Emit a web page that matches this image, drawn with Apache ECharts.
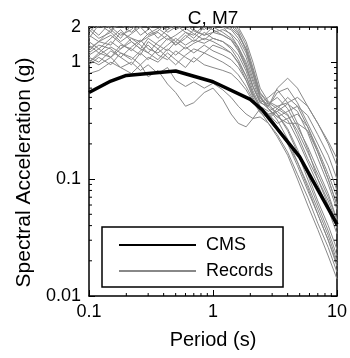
<!DOCTYPE html>
<html>
<head>
<meta charset="utf-8">
<script src="https://cdn.jsdelivr.net/npm/echarts@6/dist/echarts.min.js"></script>
<style>html,body{margin:0;padding:0;background:#fff}#c{width:350px;height:358px}</style>
</head>
<body>
<div id="c"></div>
<script>
// ---- data ----
const cmsPeriods = [0.1, 0.15, 0.2, 0.5, 1.0, 2.0, 2.5, 5.0, 10];
const cmsValues  = [0.55, 0.69, 0.77, 0.84, 0.68, 0.48, 0.39, 0.155, 0.041];

const recPeriods = [0.1,0.12,0.15,0.18,0.22,0.26,0.3,0.36,0.43,0.5,0.6,0.7,0.85,1.0,1.2,1.4,1.6,1.85,2.1,2.4,2.8,3.3,4.0,4.8,5.8,7.0,8.5,10];
const rec01 = [1.6,2.1,1.8,2.4,2.0,2.6,2.2,2.5,2.1,2.7,2.3,2.6,2.4,2.5,2.3,2.2,1.8,1.25,0.8,0.5,0.42,0.36,0.27,0.18,0.11,0.065,0.04,0.025];
const rec02 = [1.3,1.5,1.9,1.6,2.1,1.7,1.9,2.3,1.8,2.0,2.4,2.1,1.9,2.2,2.0,1.7,1.35,0.95,0.62,0.45,0.5,0.58,0.45,0.3,0.18,0.1,0.06,0.038];
const rec03 = [1.0,1.2,1.1,1.4,1.3,1.15,1.5,1.3,1.6,1.4,1.7,1.5,1.8,1.6,1.5,1.3,1.05,0.76,0.54,0.4,0.32,0.26,0.2,0.14,0.09,0.055,0.033,0.02];
const rec04 = [2.0,1.7,2.2,2.6,2.3,2.0,2.4,2.8,2.5,2.2,2.6,2.9,2.5,2.7,2.4,2.2,1.9,1.4,0.9,0.55,0.45,0.4,0.35,0.26,0.17,0.11,0.07,0.045];
const rec05 = [1.1,1.0,1.25,1.1,0.95,1.2,1.05,1.3,1.1,0.95,1.15,1.3,1.2,1.4,1.3,1.2,0.98,0.7,0.5,0.38,0.34,0.4,0.5,0.42,0.28,0.17,0.1,0.06];
const rec06 = [0.8,0.85,1.0,0.9,0.8,0.95,0.75,0.85,0.65,0.55,0.42,0.45,0.55,0.6,0.48,0.36,0.3,0.28,0.33,0.4,0.36,0.28,0.2,0.13,0.08,0.05,0.03,0.018];
const rec07 = [1.05,0.95,1.1,0.9,1.0,0.85,0.95,0.8,0.9,0.7,0.62,0.68,0.6,0.66,0.58,0.5,0.42,0.36,0.33,0.34,0.3,0.24,0.17,0.11,0.07,0.042,0.026,0.016];
const rec08 = [1.8,2.2,2.0,1.7,1.9,2.3,2.0,1.6,1.9,2.1,1.8,1.6,2.0,1.9,1.7,1.55,1.3,0.9,0.62,0.45,0.42,0.6,0.73,0.6,0.42,0.3,0.2,0.13];
const rec09 = [1.4,1.2,1.5,1.3,1.6,1.4,1.2,1.5,1.7,1.4,1.6,1.9,1.7,1.8,1.9,1.75,1.5,1.1,0.72,0.5,0.42,0.55,0.6,0.45,0.3,0.2,0.13,0.08];
const rec10 = [2.3,2.0,2.5,2.2,2.7,2.4,2.0,2.3,2.6,2.9,2.5,2.2,2.6,2.3,2.1,1.95,1.7,1.3,0.85,0.52,0.4,0.32,0.22,0.14,0.085,0.05,0.03,0.019];
const rec11 = [1.2,1.4,1.3,1.1,1.35,1.55,1.3,1.2,1.4,1.6,1.4,1.55,1.45,1.6,1.5,1.35,1.15,0.84,0.57,0.42,0.36,0.3,0.33,0.36,0.28,0.18,0.11,0.07];
const rec12 = [1.7,1.5,1.4,1.8,1.6,1.5,1.75,1.95,1.7,1.5,1.8,1.7,2.1,2.0,1.8,1.6,1.35,1.0,0.68,0.47,0.44,0.5,0.4,0.28,0.19,0.12,0.075,0.045];
const rec13 = [1.0,1.15,1.35,1.2,1.05,1.25,1.4,1.15,1.05,1.25,1.1,1.0,1.2,1.1,1.0,0.9,0.78,0.62,0.48,0.38,0.3,0.23,0.16,0.1,0.06,0.037,0.022,0.014];
const rec14 = [2.6,2.3,2.1,2.4,2.8,2.3,2.6,2.2,2.4,2.6,2.2,2.4,2.2,2.4,2.6,2.4,2.0,1.5,1.0,0.6,0.46,0.42,0.45,0.5,0.42,0.3,0.21,0.15];
const rec15 = [1.5,1.3,1.6,1.9,1.5,1.3,1.6,1.4,1.25,1.5,1.3,1.45,1.6,1.5,1.35,1.2,1.0,0.76,0.54,0.4,0.36,0.38,0.32,0.22,0.14,0.09,0.055,0.034];
const rec16 = [1.25,1.5,1.7,1.45,1.25,1.5,1.65,1.8,1.55,1.7,1.95,1.75,1.55,1.8,1.7,1.55,1.25,0.9,0.62,0.46,0.4,0.34,0.3,0.3,0.26,0.17,0.1,0.06];
const rec17 = [0.95,1.1,0.95,1.2,1.1,0.95,1.1,1.0,1.2,1.05,0.9,1.1,0.95,0.9,0.85,0.8,0.7,0.58,0.46,0.37,0.33,0.38,0.44,0.38,0.25,0.15,0.09,0.055];
const rec18 = [1.9,1.6,1.8,1.5,1.75,2.0,1.7,1.85,2.2,1.9,2.1,1.85,1.7,2.0,2.2,2.05,1.75,1.3,0.85,0.54,0.44,0.36,0.26,0.17,0.1,0.06,0.036,0.022];
const rec19 = [1.15,1.3,1.1,1.3,1.5,1.3,1.2,1.05,1.3,1.15,1.35,1.2,1.4,1.25,1.15,1.05,0.9,0.7,0.52,0.42,0.38,0.42,0.36,0.24,0.15,0.1,0.065,0.042];
const rec20 = [2.1,2.4,1.9,2.1,1.8,2.1,2.4,2.1,1.9,2.2,2.0,2.3,2.1,2.2,2.0,1.9,1.6,1.2,0.78,0.5,0.4,0.34,0.38,0.42,0.35,0.24,0.16,0.1];
const records = [rec01,rec02,rec03,rec04,rec05,rec06,rec07,rec08,rec09,rec10,rec11,rec12,rec13,rec14,rec15,rec16,rec17,rec18,rec19,rec20];

const xMinorTicks = [0.2,0.3,0.4,0.5,0.6,0.7,0.8,0.9,2,3,4,5,6,7,8,9];
const yMinorTicks = [0.02,0.03,0.04,0.05,0.06,0.07,0.08,0.09,0.2,0.3,0.4,0.5,0.6,0.7,0.8,0.9];
const xRange = [0.1, 10];
const yRange = [0.01, 2];

// ---- chart ----
const FONT = "'Liberation Sans', Arial, Helvetica, sans-serif";
const chart = echarts.init(document.getElementById('c'), null, {renderer: 'canvas'});

function fmt(v) { return String(Number(Number(v).toPrecision(6))); }

const series = [];
records.forEach(function (r) {
  series.push({
    name: 'Records', type: 'line', xAxisIndex: 0, yAxisIndex: 0,
    data: recPeriods.map(function (t, i) { return [t, r[i]]; }),
    symbol: 'none', smooth: false, clip: true, silent: true,
    lineStyle: {color: '#888888', width: 1}, itemStyle: {color: '#888888'},
    z: 2
  });
});
series.push({
  name: 'CMS', type: 'line', xAxisIndex: 0, yAxisIndex: 0,
  data: cmsPeriods.map(function (t, i) { return [t, cmsValues[i]]; }),
  symbol: 'none', clip: true, silent: true,
  lineStyle: {color: '#000', width: 3.5}, itemStyle: {color: '#000'},
  z: 3
});
// minor log ticks on all four sides, placed through the axes' own scales
series.push({
  type: 'custom', xAxisIndex: 0, yAxisIndex: 0, silent: true, z: 5,
  data: xMinorTicks.map(function (v) { return [v, yRange[0]]; }),
  renderItem: function (params, api) {
    const b = api.coord([api.value(0), yRange[0]]);
    const t = api.coord([api.value(0), yRange[1]]);
    const st = {stroke: '#000', lineWidth: 1};
    return {type: 'group', children: [
      {type: 'line', shape: {x1: b[0], y1: b[1], x2: b[0], y2: b[1] - 3}, style: st},
      {type: 'line', shape: {x1: t[0], y1: t[1], x2: t[0], y2: t[1] + 3}, style: st}
    ]};
  }
});
series.push({
  type: 'custom', xAxisIndex: 0, yAxisIndex: 0, silent: true, z: 5,
  data: yMinorTicks.map(function (v) { return [xRange[0], v]; }),
  renderItem: function (params, api) {
    const l = api.coord([xRange[0], api.value(1)]);
    const r = api.coord([xRange[1], api.value(1)]);
    const st = {stroke: '#000', lineWidth: 1};
    return {type: 'group', children: [
      {type: 'line', shape: {x1: l[0], y1: l[1], x2: l[0] + 3, y2: l[1]}, style: st},
      {type: 'line', shape: {x1: r[0], y1: r[1], x2: r[0] - 3, y2: r[1]}, style: st}
    ]};
  }
});

const axisLine = {show: true, lineStyle: {color: '#000', width: 1.5}};
const tick = {show: true, inside: true, length: 6, lineStyle: {color: '#000', width: 1}};

chart.setOption({
  animation: false,
  backgroundColor: '#fff',
  textStyle: {fontFamily: FONT},
  title: {
    text: 'C, M7', left: 213, top: 9, textAlign: 'center', padding: 0,
    textStyle: {fontFamily: FONT, fontSize: 19, fontWeight: 'normal', color: '#000'}
  },
  grid: {left: 89, right: 13, top: 27, bottom: 62, containLabel: false},
  legend: {
    orient: 'vertical', left: 102, top: 227,
    data: ['CMS', 'Records'],
    backgroundColor: '#fff', borderColor: '#000', borderWidth: 1.5, borderRadius: 0,
    padding: [9, 10, 7, 16], itemGap: 8, itemWidth: 77, itemHeight: 16,
    itemStyle: {opacity: 0, borderWidth: 0},
    textStyle: {fontFamily: FONT, fontSize: 18, color: '#000', padding: [0, 0, 0, 5]},
    selectedMode: false
  },
  xAxis: [
    {
      type: 'log', logBase: 10, min: xRange[0], max: xRange[1], position: 'bottom',
      axisLine: axisLine, axisTick: tick, splitLine: {show: false}, minorTick: {show: false},
      axisLabel: {show: true, fontFamily: FONT, fontSize: 18, color: '#000', margin: 7, formatter: fmt},
      name: 'Period (s)', nameLocation: 'middle', nameGap: 34,
      nameTextStyle: {fontFamily: FONT, fontSize: 20, color: '#000'}
    },
    {
      type: 'log', logBase: 10, min: xRange[0], max: xRange[1], position: 'top',
      axisLine: axisLine, axisTick: tick, splitLine: {show: false}, axisLabel: {show: false}
    }
  ],
  yAxis: [
    {
      type: 'log', logBase: 10, min: yRange[0], max: yRange[1], position: 'left',
      axisLine: axisLine, axisTick: tick, splitLine: {show: false}, minorTick: {show: false},
      axisLabel: {show: true, fontFamily: FONT, fontSize: 18, color: '#000', margin: 8, formatter: fmt,
                  showMinLabel: true, showMaxLabel: true},
      name: 'Spectral Acceleration (g)', nameLocation: 'middle', nameGap: 54,
      nameTextStyle: {fontFamily: FONT, fontSize: 21, color: '#000', padding: [0, 22, 0, 0]}
    },
    {
      type: 'log', logBase: 10, min: yRange[0], max: yRange[1], position: 'right',
      axisLine: axisLine, axisTick: tick, splitLine: {show: false}, axisLabel: {show: false}
    }
  ],
  series: series
});
</script>
</body>
</html>
